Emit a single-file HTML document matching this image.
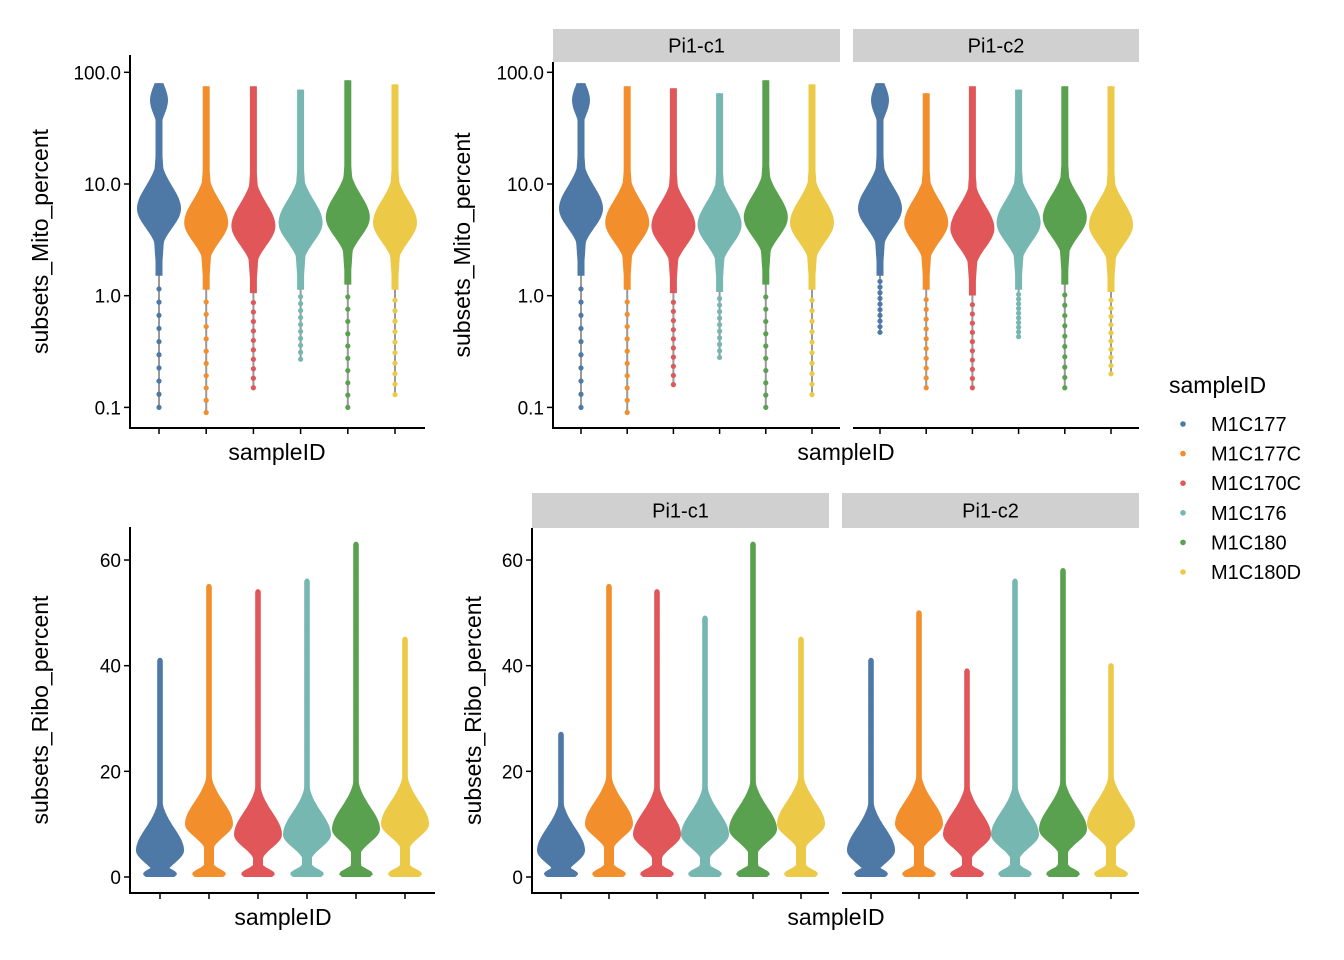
<!DOCTYPE html>
<html><head><meta charset="utf-8">
<style>
body{margin:0;background:#fff;}
svg{display:block;font-family:"Liberation Sans",sans-serif;}
</style></head>
<body>
<svg id="c" width="1344" height="960" viewBox="0 0 1344 960"></svg>
<script>
const samples=["M1C177","M1C177C","M1C170C","M1C176","M1C180","M1C180D"];
const colors=["#4e79a7","#f28e2b","#e15759","#76b7b2","#59a14f","#edc948"];
// Mito percent (log scale): mode, min, max
const mitoAllMode=[6,4.5,4.2,4.5,5,4.5];
const mitoAllMin=[0.1,0.09,0.15,0.27,0.1,0.13];
const mitoAllMax=[80,75,75,70,85,78];
const mitoC1Mode=[6,4.5,4.2,4.3,5,4.5];
const mitoC1Min=[0.1,0.09,0.16,0.28,0.1,0.13];
const mitoC1Max=[80,75,72,65,85,78];
const mitoC2Mode=[6,4.5,4.0,4.5,5,4.3];
const mitoC2Min=[0.47,0.15,0.15,0.43,0.15,0.2];
const mitoC2Max=[80,65,75,70,75,75];
// Ribo percent (linear): mode, max
const riboAllMode=[5,10,8,8,9,10];
const riboAllMax=[41,55,54,56,63,45];
const riboC1Mode=[5,10,8,8,9,10];
const riboC1Max=[27,55,54,49,63,45];
const riboC2Mode=[5,10,8,8,9,10];
const riboC2Max=[41,50,39,56,58,40];
const mitoTicks=[0.1,1,10,100];
const mitoTickLabels=["0.1","1.0","10.0","100.0"];
const riboTicks=[0,20,40,60];

const svg=document.getElementById('c');
const NS='http://www.w3.org/2000/svg';
function el(tag,attrs,parent){const e=document.createElementNS(NS,tag);for(const k in attrs)e.setAttribute(k,attrs[k]);(parent||svg).appendChild(e);return e;}
function txt(x,y,s,size,anchor,rot){const t=el('text',{x:x,y:y,'font-size':size,'text-anchor':anchor||'middle',fill:'#000'});if(rot)t.setAttribute('transform','rotate(-90 '+x+' '+y+')');t.textContent=s;return t;}

const yMito=v=>184-(Math.log10(v)-1)*111.7;
const yRibo=v=>877-v*5.283;

function mitoViolin(g,cx,mode,mn,mx,col,W,thickTop){
  const lm=Math.log10(mode),lo=Math.log10(mode)-0.6,hi=Math.log10(mx);
  const pts=[];const N=100;
  for(let i=0;i<=N;i++){const l=lo+(hi-lo)*i/N;const t=l-lm;const s=t<0?0.17:0.2;
    let w=W*Math.exp(-t*t/(2*s*s));
    w=Math.max(w,6*Math.exp(-t*t/(2*0.45*0.45)));
    if(thickTop)w=Math.max(w,9*Math.exp(-Math.pow((l-1.75)/0.18,2)));
    w=Math.max(w,3.5);pts.push([yMito(Math.pow(10,l)),w]);}
  let d='M'+(cx)+' '+pts[0][0];
  pts.forEach(p=>d+=' L'+(cx+p[1]).toFixed(1)+' '+p[0].toFixed(1));
  for(let i=pts.length-1;i>=0;i--)d+=' L'+(cx-pts[i][1]).toFixed(1)+' '+pts[i][0].toFixed(1);
  el('line',{x1:cx,x2:cx,y1:yMito(mn),y2:yMito(mx),stroke:'#999','stroke-width':2},g);
  const v=el('path',{d:d+'Z',fill:col},g);
  
  
  const ll=Math.log10(mn);
  for(let k=0;k<10;k++){const l=ll+(lo-ll)*k/10;
    const c=el('circle',{cx:cx,cy:yMito(Math.pow(10,l)),r:2.6,fill:col},g);
    
    }
}
function riboViolin(g,cx,mode,mx,col,W){
  const pts=[];const N=120;const top=mx;
  for(let i=0;i<=N;i++){const v=top*i/N;const t=v-mode;const s=t<0?2.4:4.2;
    let w=W*Math.exp(-t*t/(2*s*s));w=Math.max(w,17*Math.exp(-Math.pow((v-0.6)/1.4,2)));
    w=Math.max(w,5*Math.exp(-Math.pow(Math.max(0,t)/12,2)));
    w=Math.max(w,2.8);pts.push([yRibo(v),w]);}
  let d='M'+(cx-pts[0][1])+' '+pts[0][0];
  pts.forEach(p=>d+=' L'+(cx+p[1]).toFixed(1)+' '+p[0].toFixed(1));
  for(let i=pts.length-1;i>=0;i--)d+=' L'+(cx-pts[i][1]).toFixed(1)+' '+pts[i][0].toFixed(1);
  el('line',{x1:cx,x2:cx,y1:yRibo(0),y2:yRibo(mx),stroke:'#999','stroke-width':2},g);
  const v=el('path',{d:d+'Z',fill:col},g);
  
  
  for(let k=0;k<8;k++){const val=mx-(mx-mode-12)*k/8;
    const c=el('circle',{cx:cx,cy:yRibo(val),r:2.6,fill:col},g);
    
    }
}

function yAxis(ax,y0,y1,ticks,labels,scale,title,tx){
  el('line',{x1:ax,x2:ax,y1:y0,y2:y1,stroke:'#000','stroke-width':2});
  ticks.forEach((t,i)=>{const y=scale(t);el('line',{x1:ax-6,x2:ax,y1:y,y2:y,stroke:'#000','stroke-width':1.5});
    txt(ax-9,y+7,labels[i],19,'end');});
  const t=txt(tx,(y0+y1)/2,title,23,'middle',true);
  
  
}
function xAxis(x0,x1,y,xs,title,titleX){
  el('line',{x1:x0,x2:x1,y1:y,y2:y,stroke:'#000','stroke-width':2});
  xs.forEach(x=>el('line',{x1:x,x2:x,y1:y,y2:y+6,stroke:'#000','stroke-width':1.5}));
  const t=txt(titleX,y+32,title,23);
  
  
}
function strip(x0,x1,y0,y1,label){
  const r=el('rect',{x:x0,y:y0,width:x1-x0,height:y1-y0,fill:'#d0d0d0'});
  
  
  txt((x0+x1)/2,(y0+y1)/2+7,label,20);
}
function xsFrom(start,step){return samples.map((s,i)=>start+i*step);}

// Panel A
let g=el('g',{});
let xs=xsFrom(159,47.2);
samples.forEach((s,i)=>mitoViolin(g,xs[i],mitoAllMode[i],mitoAllMin[i],mitoAllMax[i],colors[i],22,i===0));
yAxis(130,55,428,mitoTicks,mitoTickLabels,yMito,"subsets_Mito_percent",48);
xAxis(129,425,428,xs,"sampleID",277);

// Panel B
g=el('g',{});
strip(553,840,29,62,"Pi1-c1");strip(853,1139,29,62,"Pi1-c2");
let xs1=xsFrom(581,46.2),xs2=xsFrom(880,46.2);
samples.forEach((s,i)=>mitoViolin(g,xs1[i],mitoC1Mode[i],mitoC1Min[i],mitoC1Max[i],colors[i],22,i===0));
samples.forEach((s,i)=>mitoViolin(g,xs2[i],mitoC2Mode[i],mitoC2Min[i],mitoC2Max[i],colors[i],22,i===0));
yAxis(553,62,428,mitoTicks,mitoTickLabels,yMito,"subsets_Mito_percent",470);
xAxis(552,840,428,xs1,"",700);xAxis(853,1139,428,xs2,"",996);
txt(846,460,"sampleID",23);

// Panel C
g=el('g',{});
xs=xsFrom(160,49);
samples.forEach((s,i)=>riboViolin(g,xs[i],riboAllMode[i],riboAllMax[i],colors[i],24));
yAxis(130,527,893,riboTicks,riboTicks.map(String),yRibo,"subsets_Ribo_percent",48);
xAxis(129,435,893,xs,"sampleID",283);

// Panel D
g=el('g',{});
strip(532,829,493,528,"Pi1-c1");strip(842,1139,493,528,"Pi1-c2");
xs1=xsFrom(561,48);xs2=xsFrom(871,48);
samples.forEach((s,i)=>riboViolin(g,xs1[i],riboC1Mode[i],riboC1Max[i],colors[i],24));
samples.forEach((s,i)=>riboViolin(g,xs2[i],riboC2Mode[i],riboC2Max[i],colors[i],24));
yAxis(532,528,893,riboTicks,riboTicks.map(String),yRibo,"subsets_Ribo_percent",481);
xAxis(531,829,893,xs1,"",680);xAxis(842,1139,893,xs2,"",990);
txt(836,925,"sampleID",23);

// Legend
const lg=el('g',{});
const lt=el('text',{x:1169,y:393,'font-size':23,fill:'#000'},lg);lt.textContent="sampleID";
samples.forEach((s,i)=>{const y=424+i*29.6;
  const e=el('g',{},lg);
  
  
  el('circle',{cx:1183,cy:y,r:2.8,fill:colors[i]},e);
  const t=el('text',{x:1211,y:y+7,'font-size':20,fill:'#000'},e);t.textContent=s;});
</script>
</body></html>
